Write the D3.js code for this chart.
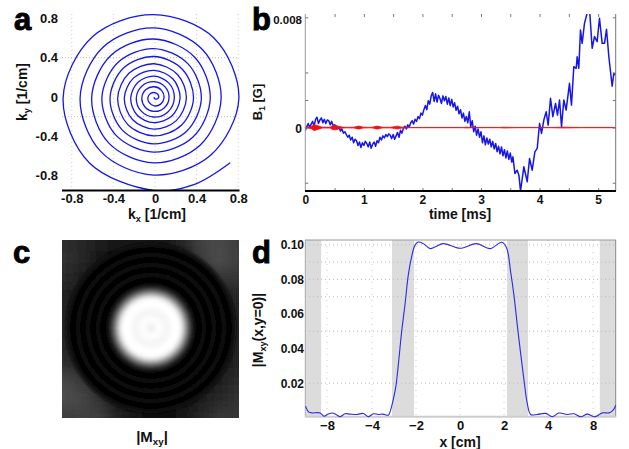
<!DOCTYPE html>
<html>
<head>
<meta charset="utf-8">
<script src="https://cdnjs.cloudflare.com/ajax/libs/d3/7.8.5/d3.min.js"></script>
<style>
  html, body { margin: 0; padding: 0; background: #fff; }
  text { font-family: "Liberation Sans", Arial, sans-serif; font-weight: bold; fill: #111; }
</style>
</head>
<body>
<script>
//panel a: spiral radius in 0.01/cm, one value per 45 degrees
var spiralRadius = [0.5, 1, 1.5, 2.5,
  4, 4.4, 4.8, 5.4, 6.2, 6.9, 7.9, 8.7,
  9.4, 10, 10.6, 11.2, 11.8, 12.4, 13, 13.7,
  14.4, 15, 15.7, 16.3, 17, 17.6, 18.3, 18.9,
  19.6, 20.3, 21, 21.6, 22.3, 23, 23.7, 24.4,
  25.2, 26, 26.7, 27.5, 28.4, 29, 29.8, 30.6,
  31.3, 32.2, 33.1, 33.8, 34.7, 35.6, 36.3, 37.2,
  38.2, 39.1, 40.1, 41.1, 42, 43, 43.9, 44.8,
  45.8, 46.7, 47.8, 48.7, 49.8, 50.8, 51.7, 53.1,
  54.4, 55.8, 57, 58.3, 59.6, 60.9, 62.1, 63.5,
  64.9, 66.3, 67.8, 69.2, 70.7, 72.1, 73.8, 77.5,
  82, 82, 80.5, 83.5, 87, 87.5, 88.5, 91.5, 96.2];
//the two last points of the spiral are closer together than 45 degrees
var spiralEndAngles = [295, 320];
var kTicks = [-0.8, -0.4, 0, 0.4, 0.8];
var kGridY = [0.4, -0.2];

//panel b: B1 in mG, evenly sampled up to 3.525 ms and then read peak by peak
var b1Sampled = [-0.2, 0.05, 0.3, 0, 0.25, 0.45, 0.1, 0.6, 0.75, 0.3,
  0.55, 0.7, 0.35, 0.6, 0.3, 0.55, 0.5, 0.2, 0.45, 0.15,
  0.2, 0.1, -0.1, 0.05, -0.25, -0.1, -0.4, -0.3, -0.5, -0.7,
  -0.55, -0.9, -0.7, -1.1, -0.85, -0.95, -1.3, -1.05, -1.45, -1.1,
  -1.3, -1, -1.15, -1.4, -1.05, -1.5, -1.2, -1.05, -1.35, -0.95,
  -1.1, -0.7, -0.9, -0.6, -0.75, -0.5, -0.65, -0.45, -0.55, -0.8,
  -0.5, -0.85, -0.6, -0.35, -0.7, -0.2, -0.4, -0.05, 0.1, -0.1,
  0.2, 0.05, 0.35, 0.5, 0.25, 0.6, 0.45, 0.8, 0.65, 1.05,
  0.9, 1.3, 1.6, 1.3, 1.95, 1.7, 2.3, 2.55, 1.9, 2.45,
  1.85, 2.35, 2.1, 1.75, 2.3, 1.95, 2.25, 1.7, 2.15, 1.6,
  2.05, 1.5, 1.8, 1.25, 1.55, 1, 1.3, 0.7, 1.05, 0.45,
  0.8, 0.35, 1.15, 0.05, 0.5, -0.3, 0.1, -0.55, -0.1, -0.7,
  -0.3, -1.1, -0.6, -1.25, -0.75, -1.2, -0.85, -1.4, -1, -1.55,
  -1.15, -1.75, -1.35, -1.9, -1.4, -2.05, -1.6, -2.2, -1.7, -2.3,
  -1.85, -2.5];
var b1PeakTime = [3.545, 3.579, 3.618, 3.647, 3.675, 3.732, 3.789, 3.829, 3.874, 3.92, 3.96, 4, 4.033, 4.073, 4.113, 4.147, 4.187, 4.227,
  4.273, 4.306, 4.341, 4.375, 4.414, 4.454, 4.511, 4.545, 4.585, 4.625, 4.642, 4.67, 4.699, 4.727, 4.767, 4.812, 4.858, 4.898,
  4.938, 4.983, 5.023, 5.069, 5.109, 5.143, 5.183, 5.24, 5.268, 5.297];
var b1PeakValue = [-2.12, -3.33, -3.09, -3.45, -4.59, -2.84, -3.93, -2.24, -3.09, -1.76, -1.51, 0.3, -0.42, 0.55, 1.15, 0.18, 2.12, 0.79,
  1.75, 0.91, 2, 0.06, 2, 1.27, 3.21, 1.63, 4.42, 4.3, 5.14, 4.3, 7.08, 6.11, 7.56, 8.3, 8.3, 5.75,
  6.6, 6.23, 7.93, 6.11, 6.11, 7.13, 5.14, 3, 3.93, 3.81];
//red channel stays at zero, this is only how far the line swells around it
var redTime = [0, 0.06, 0.11, 0.15, 0.19, 0.25, 0.3, 0.42, 0.47, 0.52, 0.58, 0.7, 0.83, 0.91, 0.99, 1.1, 1.15, 1.23, 1.31, 1.45, 1.52, 1.58, 1.65, 1.8,
  2.7, 2.75, 2.85, 3.3, 3.4, 3.6, 4.2, 4.4, 4.7, 5.3];
var redSwell = [0.03, 0.04, 0.1, 0.21, 0.17, 0.08, 0.03, 0.03, 0.15, 0.16, 0.07, 0.02, 0.03, 0.11, 0.03, 0.02, 0.03, 0.11, 0.03, 0.02, 0.07, 0.1, 0.03, 0.01,
  0.01, 0.03, 0.01, 0.01, 0.03, 0.01, 0.01, 0.03, 0.01, 0.01];
var timeTicks = [0, 1, 2, 3, 4, 5];
var timeMinor = [0.5, 1, 1.5, 2, 2.5, 3, 3.5, 4, 4.5, 5];
var b1Ticks = [-4, 0, 2, 4, 8];

//panel c: radial profile of |Mxy| (gray level every 2 px) over a coarse gray map of the corners
var radialGray = [238, 241, 245, 250, 254, 252, 249, 246, 245, 247, 250, 254, 255, 255, 252, 238, 208, 168, 125, 85, 50, 25, 10, 5, 3,
  6, 11, 11, 5, 2, 6, 11, 11, 5, 2, 6, 11, 11, 5, 2, 6, 12, 12];
var outerGray = [
  [46, 40, 30, 22, 18, 18, 22, 40, 66, 72, 60],
  [50, 38, 22, 12, 9, 9, 12, 28, 60, 78, 64],
  [44, 26, 12, 8, 8, 8, 8, 14, 36, 52, 54],
  [36, 18, 8, 8, 8, 8, 8, 8, 14, 30, 40],
  [32, 14, 8, 8, 8, 8, 8, 8, 10, 24, 36],
  [34, 14, 8, 8, 8, 8, 8, 8, 10, 20, 34],
  [38, 16, 8, 8, 8, 8, 8, 8, 10, 20, 32],
  [46, 24, 10, 8, 8, 8, 8, 8, 10, 22, 36],
  [74, 56, 24, 10, 8, 8, 8, 8, 12, 28, 42],
  [78, 70, 48, 20, 10, 10, 10, 12, 26, 40, 50],
  [60, 64, 60, 34, 20, 16, 16, 24, 38, 52, 54]];

//panel d: profile along x, axis labels are not evenly spaced so the scale is piecewise
var profileX = [-8.99, -8.85, -8.7, -8.32, -8.14, -7.88, -7.53, -7.2, -6.84, -6.4, -5.96, -5.36, -4.77, -4.33, -3.94, -3.71, -3.5, -3.26,
  -3.18, -3.06, -2.92, -2.8, -2.65, -2.5, -2.35, -2.2, -2.05, -1.9, -1.67, -1.36, -1.14, -0.76, 0, 0.76, 1.36, 1.9, 2.12, 2.3, 2.45,
  2.6, 2.76, 2.91, 3.06, 3.21, 3.51, 3.9, 4.38, 4.98, 5.72, 6.31, 6.91, 7.49, 8.09, 8.41, 8.71, 8.89, 9];
var profileY = [0.0067, 0.0034, 0.0028, 0.0028, 0.0009, 0.0021, 0.0027, 0.0019, 0.0006, 0.0023, 0.0021, 0.0019, 0.0025, 0.0006, 0.0023, 0.0019, 0.0021, 0.0015,
  0.0034, 0.0091, 0.0177, 0.0311, 0.0501, 0.0654, 0.0826, 0.093, 0.0997, 0.1016, 0.1007, 0.0978, 0.0987, 0.1007, 0.098, 0.1007, 0.0978, 0.1015, 0.0982, 0.0845, 0.0711,
  0.054, 0.0368, 0.0215, 0.0082, 0.0019, 0.0019, 0.0025, 0.0006, 0.0027, 0.0019, 0.0023, 0.0006, 0.0021, 0.0006, 0.0028, 0.0028, 0.0044, 0.0072];
var xTickValues = [-8, -4, -2, 0, 2, 4, 8];
var xTickLabels = ["\u22128", "\u22124", "\u22122", "0", "2", "4", "8"];
var yTickValues = [0.02, 0.04, 0.06, 0.08, 0.1];
var yGridValues = [0.1, 0.09, 0.08, 0.07, 0.05, 0.02];
var shadedBands = [[-9, -8.27], [-3.09, -2.09], [2.14, 3.09], [8.3, 9]];

var blue = "#1616e6";

var svg = d3.select("body").append("svg")
  .attr("width", 629)
  .attr("height", 449)
  .style("display", "block");

var defs = svg.append("defs");

function addClip(id, x, y, w, h) {
  defs.append("clipPath").attr("id", id).append("rect")
    .attr("x", x).attr("y", y).attr("width", w).attr("height", h);
}

//panel letters
function letter(t, x, y) {
  svg.append("text").attr("x", x).attr("y", y).text(t)
    .style("font-size", "31px").style("fill", "#000")
    .style("stroke", "#000").style("stroke-width", "0.9px");
}
letter("a", 14, 30);
letter("b", 252, 30);
letter("c", 13, 263);
letter("d", 252, 263);

//tick labels and tick marks, kept plain so every panel looks the same
function styleAxis(g, size) {
  g.select(".domain").remove();
  g.selectAll(".tick line").attr("stroke", "#777");
  g.selectAll(".tick text").style("font-size", size + "px").style("font-family", '"Liberation Sans", Arial, sans-serif');
}

function subLabel(x, y, rotate, size, parts) {
  var t = svg.append("text")
    .attr("transform", "translate(" + x + "," + y + ")" + (rotate ? " rotate(-90)" : ""))
    .attr("text-anchor", "middle")
    .style("font-size", size + "px");
  parts.forEach(function(p) {
    t.append("tspan")
      .attr("dy", p.sub ? 3 : (p.back ? -3 : 0))
      .style("font-size", p.sub ? (size * 0.65) + "px" : null)
      .text(p.text);
  });
}

//---------- panel a ----------
var ax = d3.scaleLinear().domain([-0.894, 0.8125]).range([62, 239.5]);
var ay = d3.scaleLinear().domain([-0.95, 0.844]).range([190.5, 14]);

kTicks.forEach(function(k) {
  svg.append("line").attr("x1", ax(k)).attr("x2", ax(k)).attr("y1", 14).attr("y2", 190)
    .attr("stroke", "#ccc").attr("stroke-dasharray", "1,3");
});
kGridY.forEach(function(k) {
  svg.append("line").attr("x1", 62).attr("x2", 239).attr("y1", ay(k)).attr("y2", ay(k))
    .attr("stroke", "#bbb").attr("stroke-dasharray", "1,2");
});

addClip("clipA", 61, 13.5, 179, 177.5);
//the ky axis is drawn a little shorter per unit than kx, and the turns drift down and left as they grow
var kyStretch = 1.057;
var spiralPoints = spiralRadius.map(function(r, i) {
  var first = spiralRadius.length - spiralEndAngles.length;
  var deg = i >= first ? spiralEndAngles[i - first] : 180 + i * 45;
  var a = deg * Math.PI / 180;
  var drift = 0.015 * r / (r + 10);
  return [r / 100 * Math.cos(a) - drift, r / 100 * kyStretch * Math.sin(a) - drift];
});
var spiralLine = d3.line()
  .x(function(d) { return ax(d[0]); })
  .y(function(d) { return ay(d[1]); })
  .curve(d3.curveCatmullRom.alpha(0.5));
svg.append("path").datum(spiralPoints)
  .attr("d", spiralLine)
  .attr("clip-path", "url(#clipA)")
  .attr("fill", "none").attr("stroke", blue).attr("stroke-width", 1.3);

svg.append("g").attr("transform", "translate(0,190.5)")
  .call(d3.axisBottom(ax).tickValues(kTicks).tickSize(0).tickPadding(3).tickFormat(function(d) { return d == 0 ? "0" : d3.format(".1f")(d).replace("\u2212", "-"); }))
  .call(styleAxis, 13);
svg.append("g").attr("transform", "translate(59,0)")
  .call(d3.axisLeft(ay).tickValues(kTicks).tickSize(0).tickPadding(1).tickFormat(function(d) { return d == 0 ? "0" : d3.format(".1f")(d).replace("\u2212", "-"); }))
  .call(styleAxis, 13);
svg.append("line").attr("x1", 62).attr("x2", 239.5).attr("y1", 190.5).attr("y2", 190.5)
  .attr("stroke", "#000").attr("stroke-width", 2);

subLabel(157, 219, false, 14, [{ text: "k" }, { text: "x", sub: true }, { text: " [1/cm]", back: true }]);
subLabel(27, 92, true, 14, [{ text: "k" }, { text: "y", sub: true }, { text: " [1/cm]", back: true }]);

//---------- panel b ----------
var bx = d3.scaleLinear().domain([0, 5.3]).range([305.3, 615.7]);
var by = d3.scaleLinear().domain([-4.6, 8.24]).range([191, 14]);
var b1Time = d3.range(b1Sampled.length).map(function(i) { return i * 0.025; }).concat(b1PeakTime);
var b1Value = b1Sampled.concat(b1PeakValue);

addClip("clipB", 305, 14, 311, 177);
var b1Line = d3.line()
  .x(function(d, i) { return bx(b1Time[i]); })
  .y(function(d) { return by(d); });
svg.append("path").datum(b1Value)
  .attr("d", b1Line)
  .attr("clip-path", "url(#clipB)")
  .attr("fill", "none").attr("stroke", blue).attr("stroke-width", 1.5).attr("stroke-linejoin", "round");

var redArea = d3.area()
  .x(function(d, i) { return bx(redTime[i]); })
  .y0(function(d) { return by(-d); })
  .y1(function(d) { return by(d); })
  .curve(d3.curveMonotoneX);
svg.append("path").datum(redSwell)
  .attr("d", redArea)
  .attr("fill", "#f01010").attr("stroke", "#f01010").attr("stroke-width", 0.8);

//frame lines and inward ticks
svg.append("line").attr("x1", 305.3).attr("x2", 305.3).attr("y1", 14).attr("y2", 191).attr("stroke", "#999");
svg.append("line").attr("x1", 615.7).attr("x2", 615.7).attr("y1", 14).attr("y2", 191).attr("stroke", "#777");
svg.append("g").attr("transform", "translate(0,14)")
  .call(d3.axisBottom(bx).tickValues(timeMinor).tickSize(3).tickFormat(""))
  .call(styleAxis, 11);
svg.append("g").attr("transform", "translate(0,191)")
  .call(d3.axisTop(bx).tickValues(timeMinor).tickSize(3).tickFormat(""))
  .call(styleAxis, 11);
svg.append("g").attr("transform", "translate(305.3,0)")
  .call(d3.axisRight(by).tickValues(b1Ticks).tickSize(3).tickFormat(""))
  .call(styleAxis, 11);
svg.append("g").attr("transform", "translate(615.7,0)")
  .call(d3.axisLeft(by).tickValues(b1Ticks).tickSize(3).tickFormat(""))
  .call(styleAxis, 11);
svg.append("line").attr("x1", 305).attr("x2", 616).attr("y1", 191).attr("y2", 191)
  .attr("stroke", "#000").attr("stroke-width", 2);

svg.append("g").attr("transform", "translate(0,191)")
  .call(d3.axisBottom(bx).tickValues(timeTicks).tickSize(0).tickPadding(4).tickFormat(d3.format("d")))
  .call(styleAxis, 12);
svg.append("text").attr("x", 302).attr("y", 24).attr("text-anchor", "end").style("font-size", "11.5px").text("0.008");
svg.append("text").attr("x", 302).attr("y", 133).attr("text-anchor", "end").style("font-size", "12px").text("0");
svg.append("text").attr("x", 460).attr("y", 219).attr("text-anchor", "middle").style("font-size", "14px").text("time [ms]");
subLabel(262, 102, true, 13, [{ text: "B" }, { text: "1", sub: true }, { text: " [G]", back: true }]);

//---------- panel c ----------
addClip("clipC", 62, 240, 177, 178);
var gray = d3.scaleLinear().domain([0, 255]).range(["#000", "#fff"]);
var cellX = d3.scaleBand().domain(d3.range(11)).range([56, 245]);
var cellY = d3.scaleBand().domain(d3.range(11)).range([234, 424]);
var radiusScale = d3.scaleLinear().domain([0, radialGray.length - 1]).range([0, 84]);

defs.append("filter").attr("id", "soft").attr("x", "-20%").attr("y", "-20%").attr("width", "140%").attr("height", "140%")
  .append("feGaussianBlur").attr("stdDeviation", 7);
defs.append("filter").attr("id", "softRing").attr("x", "-20%").attr("y", "-20%").attr("width", "140%").attr("height", "140%")
  .append("feGaussianBlur").attr("stdDeviation", 1.5);

var imageGroup = svg.append("g").attr("clip-path", "url(#clipC)");
imageGroup.append("rect").attr("x", 62).attr("y", 240).attr("width", 177).attr("height", 178).attr("fill", "#1c1c1c");
var coarse = imageGroup.append("g").attr("filter", "url(#soft)");
outerGray.forEach(function(row, j) {
  row.forEach(function(v, i) {
    coarse.append("rect")
      .attr("x", i == 0 ? cellX(i) - 30 : cellX(i))
      .attr("y", j == 0 ? cellY(j) - 30 : cellY(j))
      .attr("width", cellX.bandwidth() + (i == 0 || i == 10 ? 30 : 0.5))
      .attr("height", cellY.bandwidth() + (j == 0 || j == 10 ? 30 : 0.5))
      .attr("fill", gray(v));
  });
});
var rings = imageGroup.append("g").attr("filter", "url(#softRing)");
radialGray.map(function(v, i) { return i; }).reverse().forEach(function(i) {
  rings.append("circle")
    .attr("cx", 151).attr("cy", 328)
    .attr("r", radiusScale(i) + 1)
    .attr("fill", gray(radialGray[i]));
});

subLabel(152, 442, false, 15, [{ text: "|M" }, { text: "xy", sub: true }, { text: "|", back: true }]);

//---------- panel d ----------
var dx = d3.scaleLinear()
  .domain([-9, -8, -4, -2, 0, 2, 4, 8, 9])
  .range([305.3, 327, 372, 416, 460, 504, 548, 593, 615.7]);
var dy = d3.scaleLinear().domain([0.0006, 0.1028]).range([416.7, 240]);

svg.selectAll(".band").data(shadedBands).enter().append("rect")
  .attr("class", "band")
  .attr("x", function(d) { return dx(d[0]); })
  .attr("y", 240)
  .attr("width", function(d) { return dx(d[1]) - dx(d[0]); })
  .attr("height", 177)
  .attr("fill", "#dcdcdc");

yGridValues.forEach(function(v) {
  svg.append("line").attr("x1", 305).attr("x2", 615).attr("y1", dy(v)).attr("y2", dy(v))
    .attr("stroke", "#bbb").attr("stroke-dasharray", "1,3");
});
xTickValues.forEach(function(v) {
  svg.append("line").attr("x1", dx(v)).attr("x2", dx(v)).attr("y1", 240).attr("y2", 416)
    .attr("stroke", "#ccc").attr("stroke-dasharray", "1,5");
});

svg.append("line").attr("x1", 305).attr("x2", 616).attr("y1", 240).attr("y2", 240).attr("stroke", "#999");
svg.append("line").attr("x1", 305.3).attr("x2", 305.3).attr("y1", 240).attr("y2", 417).attr("stroke", "#aaa");
svg.append("line").attr("x1", 615.7).attr("x2", 615.7).attr("y1", 240).attr("y2", 417).attr("stroke", "#888");
svg.append("line").attr("x1", 305).attr("x2", 616).attr("y1", 416.8).attr("y2", 416.8).attr("stroke", "#ccc").attr("stroke-width", 2);

var profileLine = d3.line()
  .x(function(d, i) { return dx(profileX[i]); })
  .y(function(d) { return dy(d); })
  .curve(d3.curveCatmullRom.alpha(0.5));
svg.append("path").datum(profileY)
  .attr("d", profileLine)
  .attr("fill", "none").attr("stroke", "#2a2ae8").attr("stroke-width", 1.1);

svg.append("g").attr("transform", "translate(0,417)")
  .call(d3.axisBottom(dx).tickValues(xTickValues).tickSize(0).tickPadding(4).tickFormat(function(d, i) { return xTickLabels[i]; }))
  .call(styleAxis, 13);
svg.append("g").attr("transform", "translate(304,0)")
  .call(d3.axisLeft(dy).tickValues(yTickValues).tickSize(0).tickPadding(0).tickFormat(d3.format(".2f")))
  .call(styleAxis, 12);
svg.append("text").attr("x", 460).attr("y", 447).attr("text-anchor", "middle").style("font-size", "14px").text("x [cm]");
subLabel(263, 330, true, 14, [{ text: "|M" }, { text: "xy", sub: true }, { text: "(x,y=0)|", back: true }]);
</script>
</body>
</html>
